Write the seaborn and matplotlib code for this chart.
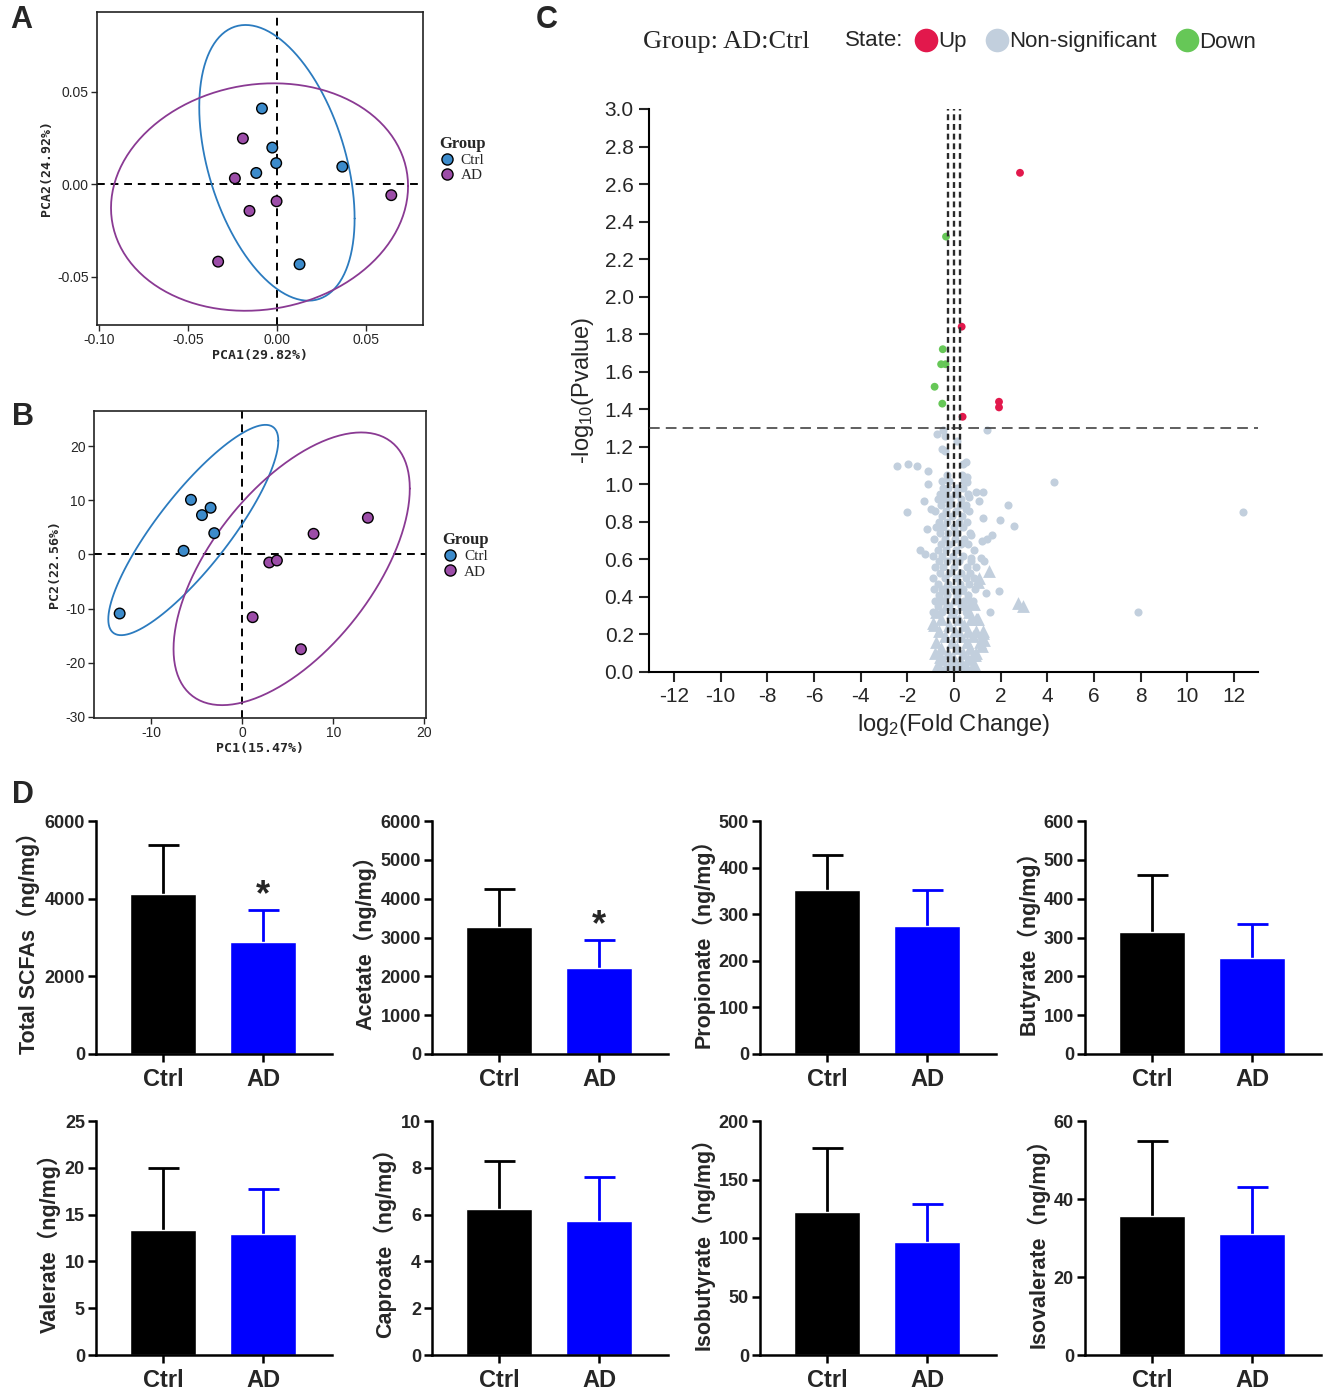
import numpy as np
import pandas as pd
import matplotlib
matplotlib.use('Agg')
import matplotlib.pyplot as plt
from matplotlib.lines import Line2D
import seaborn as sns

# ============ Data ============
# A: PCA of microbiota
a_ctrl_x = [-0.0084, -0.0026, -0.0004, -0.0116, 0.0367, 0.0127]
a_ctrl_y = [0.0409, 0.0198, 0.0114, 0.0061, 0.0095, -0.0432]
a_ad_x = [-0.0191, -0.0236, -0.0154, -0.0002, -0.0330, 0.0642]
a_ad_y = [0.0247, 0.0032, -0.0144, -0.0092, -0.0418, -0.0059]

# B: PCA of metabolites
b_ctrl_x = [-5.64, -4.43, -3.48, -3.08, -6.45, -13.48]
b_ctrl_y = [10.1, 7.27, 8.63, 3.94, 0.68, -10.9]
b_ad_x = [13.81, 7.84, 2.97, 3.81, 1.14, 6.45]
b_ad_y = [6.78, 3.82, -1.48, -1.11, -11.58, -17.5]

# C: volcano plot
up_x = [2.83, 0.33, 1.93, 1.93, 0.37]
up_y = [2.66, 1.84, 1.44, 1.41, 1.36]
down_x = [-0.34, -0.48, -0.55, -0.36, -0.83, -0.50]
down_y = [2.32, 1.72, 1.64, 1.64, 1.52, 1.43]
ns_circles = [
    (-0.74, 1.27), (-0.46, 1.29), (-0.39, 1.26), (1.40, 1.29), (0.11, 1.23), (-0.53, 1.19),
    (-0.39, 1.18), (-2.46, 1.10), (-1.99, 1.11), (-1.60, 1.10), (-1.10, 1.07), (0.40, 1.11),
    (0.51, 1.12), (0.54, 1.04), (0.57, 1.01), (4.30, 1.01), (-1.10, 1.00), (0.94, 0.96),
    (1.23, 0.96), (0.63, 0.93), (1.06, 0.91), (2.33, 0.89), (-1.27, 0.91), (-2.03, 0.85),
    (-0.99, 0.87), (0.50, 0.87), (1.23, 0.82), (1.97, 0.81), (2.57, 0.78), (-1.14, 0.76),
    (12.4, 0.85), (0.71, 0.73), (1.21, 0.70), (1.40, 0.71), (1.62, 0.73), (-1.45, 0.65),
    (-1.25, 0.63), (0.74, 0.61), (1.17, 0.61), (1.28, 0.59), (1.36, 0.42), (1.94, 0.43),
    (1.54, 0.32), (7.89, 0.32),
    (-0.30, 1.05), (0.35, 1.05), (-0.50, 1.02), (-0.20, 1.02), (0.45, 1.02),
    (-0.45, 0.98), (-0.25, 0.98), (0.15, 0.98), (0.40, 0.98),
    (-0.60, 0.95), (-0.35, 0.95), (0.05, 0.95), (0.60, 0.95),
    (-0.70, 0.92), (-0.40, 0.92), (-0.15, 0.92), (0.30, 0.92),
    (-0.55, 0.89), (-0.20, 0.89), (0.25, 0.89), (0.50, 0.89),
    (-0.80, 0.86), (-0.35, 0.86), (0.10, 0.86), (0.65, 0.86),
    (-0.50, 0.83), (-0.10, 0.83), (0.35, 0.83),
    (-0.65, 0.80), (-0.30, 0.80), (0.20, 0.80), (0.55, 0.80),
    (-0.75, 0.77), (-0.45, 0.77), (0.00, 0.77), (0.40, 0.77),
    (-0.60, 0.74), (-0.25, 0.74), (0.15, 0.74), (0.70, 0.74),
    (-0.85, 0.71), (-0.40, 0.71), (0.05, 0.71), (0.45, 0.71),
    (-0.55, 0.68), (-0.20, 0.68), (0.30, 0.68), (0.60, 0.68),
    (-0.70, 0.65), (-0.35, 0.65), (0.10, 0.65), (0.85, 0.65),
    (-0.90, 0.62), (-0.50, 0.62), (-0.05, 0.62), (0.40, 0.62),
    (-0.65, 0.59), (-0.30, 0.59), (0.20, 0.59), (0.75, 0.59),
    (-0.80, 0.56), (-0.45, 0.56), (0.00, 0.56), (0.55, 0.56), (0.95, 0.56),
    (-0.60, 0.53), (-0.20, 0.53), (0.30, 0.53), (0.70, 0.53),
    (-0.90, 0.50), (-0.40, 0.50), (0.10, 0.50), (0.50, 0.50), (0.85, 0.50),
    (-0.70, 0.47), (-0.25, 0.47), (0.25, 0.47), (0.65, 0.47),
    (-0.85, 0.44), (-0.50, 0.44), (0.00, 0.44), (0.40, 0.44), (0.90, 0.44),
    (-0.65, 0.41), (-0.30, 0.41), (0.15, 0.41), (0.60, 0.41),
    (-0.80, 0.38), (-0.45, 0.38), (0.05, 0.38), (0.45, 0.38), (0.80, 0.38),
    (-0.70, 0.35), (-0.20, 0.35), (0.30, 0.35), (0.70, 0.35),
    (-0.90, 0.32), (-0.50, 0.32), (0.00, 0.32), (0.50, 0.32),
]
ns_triangles = [
    (1.50, 0.54), (1.06, 0.50), (1.04, 0.48), (2.75, 0.37), (2.95, 0.35), (0.94, 0.28),
    (1.23, 0.21), (1.19, 0.14), (0.83, 0.09), (-0.89, 0.26), (-0.60, 0.08), (1.26, 0.22),
    (1.30, 0.17), (0.90, 0.09), (0.80, 0.03), (1.04, 0.28),
    (-0.40, 0.45), (0.30, 0.45), (-0.60, 0.40), (0.10, 0.40), (0.60, 0.40),
    (-0.30, 0.36), (0.40, 0.36), (0.85, 0.36), (-0.75, 0.32), (-0.10, 0.32), (0.65, 0.32),
    (-0.55, 0.28), (0.20, 0.28), (0.75, 0.28), (1.00, 0.28),
    (-0.85, 0.25), (-0.20, 0.25), (0.45, 0.25), (-0.65, 0.22), (0.05, 0.22), (0.60, 0.22), (0.95, 0.22),
    (-0.40, 0.19), (0.30, 0.19), (0.80, 0.19), (-0.75, 0.16), (-0.10, 0.16), (0.55, 0.16), (1.10, 0.16),
    (-0.55, 0.13), (0.15, 0.13), (0.70, 0.13), (-0.80, 0.10), (-0.25, 0.10), (0.40, 0.10), (0.95, 0.10),
    (-0.50, 0.07), (0.00, 0.07), (0.60, 0.07), (-0.70, 0.04), (-0.15, 0.04), (0.35, 0.04), (0.85, 0.04),
    (-0.40, 0.02), (0.10, 0.02), (0.55, 0.02),
]

# D: SCFA concentrations (mean, SD)
scfa_names = ['Total SCFAs', 'Acetate', 'Propionate', 'Butyrate',
              'Valerate', 'Caproate', 'Isobutyrate', 'Isovalerate']
ctrl_mean = [4120, 3270, 351, 315, 13.4, 6.24, 122.6, 35.7]
ctrl_sd = [1270, 990, 76, 146, 6.6, 2.05, 54.2, 19.3]
ad_mean = [2885, 2212, 275, 248, 12.9, 5.72, 96.8, 31.1]
ad_sd = [835, 723, 77, 87, 4.8, 1.90, 32.1, 12.0]
y_max = [6000, 6000, 500, 600, 25, 10, 200, 60]
y_step = [2000, 1000, 100, 100, 5, 2, 50, 20]
signif = [True, True, False, False, False, False, False, False]
groups = ['Ctrl', 'AD']

# ============ Style ============
sns.set_style('ticks')
plt.rcParams['font.family'] = ['Liberation Sans', 'Noto Sans CJK SC']
plt.rcParams['mathtext.default'] = 'regular'
plt.rcParams['axes.unicode_minus'] = False

W, H = 1325, 1396
fig = plt.figure(figsize=(W / 100, H / 100), dpi=100)


def add_ax(l, t, r, b):
    return fig.add_axes([l / W, 1 - b / H, (r - l) / W, (b - t) / H])


def t_ellipse(pts, nu=5, level_f=5.786135, segments=120):
    # robust (multivariate t) 95% ellipse, same idea as ggplot stat_ellipse
    n, p = pts.shape
    loc = pts.mean(0)
    w = np.ones(n)
    for _ in range(25):
        w0 = w
        X = pts - loc
        _, d, vt = np.linalg.svd(np.sqrt(w / w.sum())[:, None] * X, full_matrices=False)
        wX = X @ vt.T @ np.diag(1 / d)
        Q = (wX ** 2).sum(1)
        w = (nu + p) / (nu + Q)
        loc = (w[:, None] * pts).sum(0) / w.sum()
        if np.all(np.abs(w - w0) < 0.01):
            break
    cov = (np.sqrt(w)[:, None] * X).T @ (np.sqrt(w)[:, None] * X) / n
    R = np.linalg.cholesky(cov).T
    ang = np.linspace(0, 2 * np.pi, segments + 1)
    circ = np.column_stack([np.cos(ang), np.sin(ang)])
    e = loc + np.sqrt(2 * level_f) * circ @ R
    return e[:, 0], e[:, 1]


pca_pal = {'Ctrl': '#3C8BCB', 'AD': '#9C4DA8'}
ell_pal = {'Ctrl': '#2B7BBF', 'AD': '#8A3A93'}


def pca_panel(ax, cx, cy, dx, dy, xlim, ylim, xticks, yticks, xfmt, xlabel, ylabel):
    df = pd.DataFrame({'x': cx + dx, 'y': cy + dy,
                       'Group': ['Ctrl'] * len(cx) + ['AD'] * len(dx)})
    for g in groups:
        pts = df[df.Group == g][['x', 'y']].to_numpy()
        ex, ey = t_ellipse(pts)
        ax.plot(ex, ey, color=ell_pal[g], lw=1.3, zorder=2)
    ax.axhline(0, color='black', lw=1.4, ls=(0, (4, 3)), zorder=1)
    ax.axvline(0, color='black', lw=1.4, ls=(0, (4, 3)), zorder=1)
    sns.scatterplot(data=df, x='x', y='y', hue='Group', hue_order=groups, palette=pca_pal,
                    s=58, edgecolor='black', linewidth=1.0, ax=ax, zorder=3)
    ax.set_xlim(xlim)
    ax.set_ylim(ylim)
    ax.set_xticks(xticks)
    ax.set_yticks(yticks)
    ax.set_xticklabels([xfmt.format(v) for v in xticks], fontsize=10)
    ax.set_yticklabels([xfmt.format(v) for v in yticks], fontsize=10)
    ax.tick_params(length=4, width=1.0, pad=2)
    for s in ax.spines.values():
        s.set_linewidth(1.2)
        s.set_color('#222222')
    ax.set_xlabel(xlabel, fontsize=9.5, weight='bold', family='DejaVu Sans Mono', labelpad=1)
    ax.set_ylabel(ylabel, fontsize=9.5, weight='bold', family='DejaVu Sans Mono', labelpad=3)
    handles = [Line2D([], [], marker='o', ls='', markersize=8, markerfacecolor=pca_pal[g],
                      markeredgecolor='black', markeredgewidth=1.0) for g in groups]
    leg = ax.legend(handles, groups, title='Group', loc='center left', bbox_to_anchor=(1.05, 0.53),
                    frameon=False, borderaxespad=0, borderpad=0, handletextpad=0.4,
                    labelspacing=0.1, handlelength=1.0, alignment='left',
                    prop={'family': 'Liberation Serif', 'size': 11})
    leg.get_title().set_fontproperties({'family': 'Liberation Serif', 'size': 12, 'weight': 'bold'})


# ============ A ============
axA = add_ax(97, 12, 423, 325)
pca_panel(axA, a_ctrl_x, a_ctrl_y, a_ad_x, a_ad_y, (-0.101, 0.082), (-0.076, 0.093),
          [-0.10, -0.05, 0.0, 0.05], [-0.05, 0.0, 0.05], '{:.2f}', 'PCA1(29.82%)', 'PCA2(24.92%)')

# ============ B ============
axB = add_ax(94, 411, 426, 718)
pca_panel(axB, b_ctrl_x, b_ctrl_y, b_ad_x, b_ad_y, (-16.3, 20.2), (-30.2, 26.5),
          [-10, 0, 10, 20], [-30, -20, -10, 0, 10, 20], '{:g}', 'PC1(15.47%)', 'PC2(22.56%)')

# ============ C: volcano ============
state_pal = {'Up': '#E2184C', 'Non-significant': '#C2CFDD', 'Down': '#66C757'}
axC = add_ax(649, 109, 1258, 672)
ns_c = pd.DataFrame(ns_circles, columns=['x', 'y'])
ns_t = pd.DataFrame(ns_triangles, columns=['x', 'y'])
sig = pd.DataFrame({'x': up_x + down_x, 'y': up_y + down_y,
                    'State': ['Up'] * len(up_x) + ['Down'] * len(down_x)})
sns.scatterplot(data=ns_c, x='x', y='y', color=state_pal['Non-significant'], s=34,
                linewidth=0, ax=axC, zorder=2)
sns.scatterplot(data=ns_t, x='x', y='y', color=state_pal['Non-significant'], marker='^', s=85,
                linewidth=0, ax=axC, zorder=2)
sns.scatterplot(data=sig, x='x', y='y', hue='State', palette=state_pal, s=32, linewidth=0,
                ax=axC, zorder=3, legend=False)
fc_cut = np.log2(1.2)
for v in [-fc_cut, 0, fc_cut]:
    axC.axvline(v, color='#2a2a2a', lw=1.7, ls=(0, (2.5, 1.6)), zorder=4)
axC.axhline(-np.log10(0.05), color='#333333', lw=1.1, ls=(0, (7, 4)), zorder=4)
axC.set_xlim(-13.07, 13.03)
axC.set_ylim(0, 3.0)
axC.set_xticks(range(-12, 13, 2))
axC.set_yticks(np.round(np.arange(0, 3.01, 0.2), 1))
axC.set_yticklabels(['{:.1f}'.format(v) for v in np.arange(0, 3.01, 0.2)])
axC.tick_params(labelsize=15, length=7, width=1.5, pad=4)
sns.despine(ax=axC)
for s in ['left', 'bottom']:
    axC.spines[s].set_linewidth(1.5)
    axC.spines[s].set_color('black')
axC.set_xlabel(r'log$_2$(Fold Change)', fontsize=17, labelpad=4)
axC.set_ylabel(r'-log$_{10}$(Pvalue)', fontsize=17, labelpad=6)

fig.text(643 / W, 1 - 42 / H, 'Group: AD:Ctrl', family='Liberation Serif', fontsize=19, va='center')
fig.text(845 / W, 1 - 41 / H, 'State:', family=['Liberation Sans Narrow', 'Liberation Sans'],
         fontsize=16, va='center')
leg_handles = [Line2D([], [], marker='o', ls='', markersize=17, markerfacecolor=state_pal[k],
                      markeredgewidth=0) for k in ['Up', 'Non-significant', 'Down']]
fig.legend(leg_handles, ['Up', 'Non-significant', 'Down'], loc='center left',
           bbox_to_anchor=(916 / W, 1 - 42 / H), ncol=3, frameon=False, handlelength=0.9,
           handletextpad=0.1, columnspacing=0.9, borderpad=0, borderaxespad=0,
           prop={'family': ['Liberation Sans Narrow', 'Liberation Sans'], 'size': 16})

# ============ D: SCFAs ============
col_left = [96, 432, 760, 1085]
row_tb = [(821, 1054), (1121, 1355)]
narrow_bold = {'family': ['Liberation Sans Narrow', 'Liberation Sans'], 'weight': 'bold'}
cap_half = 0.155
for i, name in enumerate(scfa_names):
    top, bot = row_tb[i // 4]
    left = col_left[i % 4]
    ax = add_ax(left, top, left + 236, bot)
    sns.barplot(x=groups, y=[ctrl_mean[i], ad_mean[i]], hue=groups, palette=['black', '#0000FF'],
                width=0.66, legend=False, ax=ax, saturation=1, errorbar=None, zorder=2)
    # upper-only SD bars (GraphPad style)
    for j, (m, sd, c) in enumerate([(ctrl_mean[i], ctrl_sd[i], 'black'),
                                    (ad_mean[i], ad_sd[i], '#0000FF')]):
        ax.vlines(j, m, m + sd, color=c, lw=2.0, zorder=1)
        ax.hlines(m + sd, j - cap_half, j + cap_half, color=c, lw=2.0, zorder=1)
    if signif[i]:
        ax.text(1, ad_mean[i] + ad_sd[i] + 0.06 * y_max[i], '*', ha='center', va='center',
                fontsize=26, weight='bold')
    ax.set_xlim(-0.67, 1.69)
    ax.set_ylim(0, y_max[i])
    ax.set_yticks(np.arange(0, y_max[i] + y_step[i] / 2, y_step[i]))
    sns.despine(ax=ax)
    for s in ['left', 'bottom']:
        ax.spines[s].set_linewidth(1.8)
        ax.spines[s].set_color('black')
    ax.tick_params(axis='both', length=6, width=1.8, color='black')
    ax.tick_params(axis='y', pad=2)
    ax.tick_params(axis='x', pad=4)
    for lab in ax.get_yticklabels():
        lab.set_fontproperties(dict(narrow_bold, size=13))
    for lab in ax.get_xticklabels():
        lab.set_fontproperties(dict(narrow_bold, size=17))
    ax.set_ylabel(name + '（ng/mg）', fontsize=15.5, weight='bold',
                  family=['Liberation Sans', 'Noto Sans CJK SC'], labelpad=3)
    ax.set_xlabel('')

# Panel letters
for letter, (x, y) in {'A': (10, 5), 'B': (12, 402), 'C': (536, 5), 'D': (12, 780)}.items():
    fig.text(x / W, 1 - y / H, letter, fontsize=22, weight='bold', va='top', ha='left')

fig.savefig('out.png', dpi=100)
